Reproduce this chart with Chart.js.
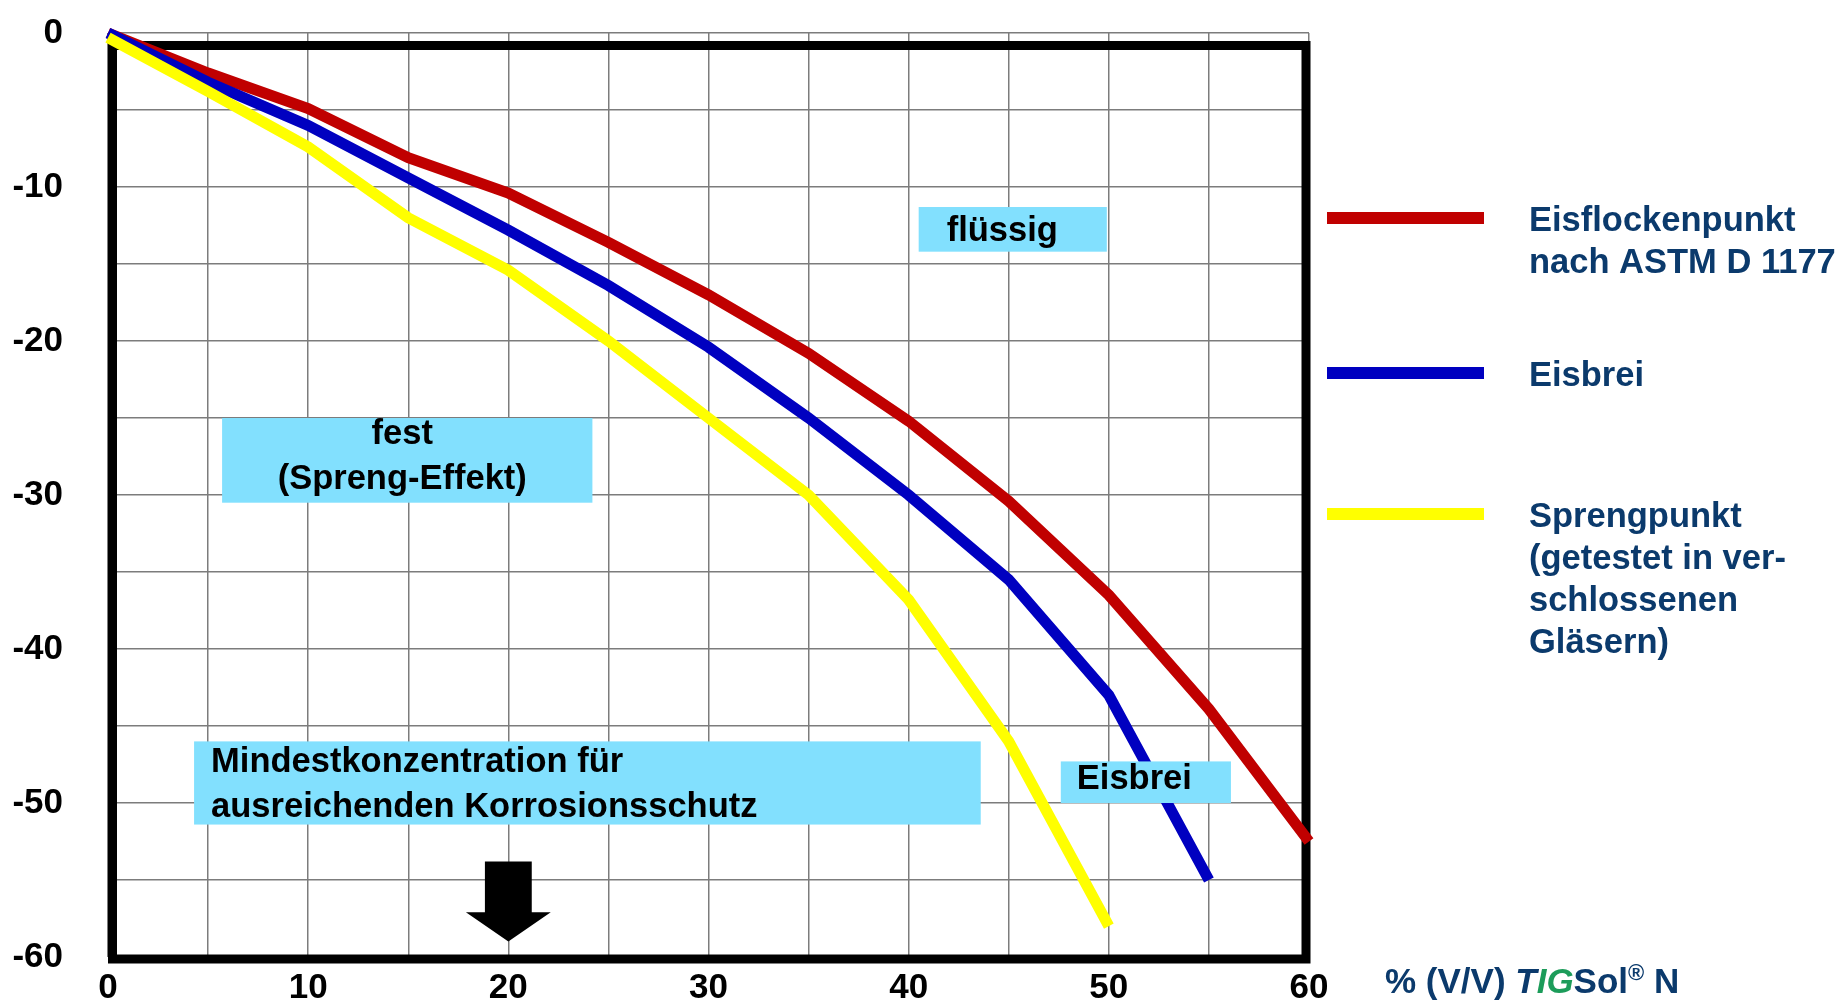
<!DOCTYPE html>
<html>
<head>
<meta charset="utf-8">
<title>Eisflockenpunkt / Sprengpunkt TIGSol N</title>
<script src="https://cdn.jsdelivr.net/npm/chart.js@4.4.1/dist/chart.umd.min.js"></script>
<style>
  html, body { margin: 0; padding: 0; background: #fff; }
  #wrap { width: 1844px; height: 1002px; }
</style>
</head>
<body>
<div id="wrap"><canvas id="chart" width="1844" height="1002"></canvas></div>
<script>
// concentration in % (V/V), temperature in °C
const flockenX = [0, 5, 10, 15, 20, 25, 30, 35, 40, 45, 50, 55, 60];
const eisflockenpunkt = [0, -2.6, -4.9, -8.1, -10.4, -13.6, -17.0, -20.8, -25.2, -30.4, -36.5, -43.9, -52.5];

const eisbreiX = [0, 5, 10, 15, 20, 25, 30, 35, 40, 45, 50, 55];
const eisbrei = [0, -3.2, -6.0, -9.4, -12.8, -16.4, -20.4, -25.0, -30.0, -35.5, -43.0, -55.0];

const sprengX = [0, 5, 10, 15, 20, 25, 30, 35, 40, 45, 50];
const sprengpunkt = [-0.3, -3.8, -7.4, -12.0, -15.4, -20.0, -25.0, -30.0, -36.8, -46.0, -58.0];

const xTickLabels = [0, 10, 20, 30, 40, 50, 60];
const yTickLabels = [0, -10, -20, -30, -40, -50, -60];

const seriesNames = ['Eisflockenpunkt nach ASTM D 1177', 'Eisbrei', 'Sprengpunkt'];
const legendText = [
    ['Eisflockenpunkt', 'nach ASTM D 1177'],
    ['Eisbrei'],
    ['Sprengpunkt', '(getestet in ver-', 'schlossenen', 'Gläsern)']
];
const seriesColors = ['#c00000', '#0000c0', '#ffff00'];

const NAVY = '#0b3a6c';
const GREEN = '#1c9c5a';
const BOX = '#82e0fe';
const FONT = '"Liberation Sans", Arial, sans-serif';

// text boxes inside the plot, placed in data units
const notes = [
    { x0: 40.5, x1: 49.9, y0: -11.3, y1: -14.2, align: 'left', tx: 41.9, lines: [['flüssig', -13.5]] },
    { x0: 5.7, x1: 24.2, y0: -25.0, y1: -30.5, align: 'center', tx: 14.7, lines: [['fest', -26.7], ['(Spreng-Effekt)', -29.6]] },
    { x0: 4.3, x1: 43.6, y0: -46.0, y1: -51.4, align: 'left', tx: 5.15, lines: [['Mindestkonzentration für', -48.0], ['ausreichenden Korrosionsschutz', -50.9]] },
    { x0: 47.6, x1: 56.1, y0: -47.3, y1: -50.0, align: 'left', tx: 48.4, lines: [['Eisbrei', -49.1]] }
];
const arrow = { x: 20, top: -53.8, neck: -57.1, tip: -59.0, shaft: 1.17, head: 2.12 };

function pts(xs, ys) {
    return xs.map((x, i) => ({ x: x, y: ys[i] }));
}

const decorPlugin = {
    id: 'decor',
    beforeDatasetsDraw(chart) {
        const { ctx, chartArea: a } = chart;
        ctx.save();
        ctx.strokeStyle = '#000';
        ctx.lineWidth = 9;
        const l = a.left + 4.5, t = a.top + 12.5, r = a.right - 3, b = a.bottom + 2;
        ctx.strokeRect(l, t, r - l, b - t);
        ctx.restore();
    },
    afterDatasetsDraw(chart) {
        const { ctx, chartArea: a } = chart;
        const xs = chart.scales.x, ys = chart.scales.y;
        const px = v => xs.getPixelForValue(v);
        const py = v => ys.getPixelForValue(v);
        ctx.save();

        // note boxes
        ctx.font = 'bold 34.5px ' + FONT;
        ctx.textBaseline = 'alphabetic';
        notes.forEach(n => {
            ctx.fillStyle = BOX;
            ctx.fillRect(px(n.x0), py(n.y0), px(n.x1) - px(n.x0), py(n.y1) - py(n.y0));
            ctx.fillStyle = '#000';
            ctx.textAlign = n.align;
            n.lines.forEach(([txt, y]) => ctx.fillText(txt, px(n.tx), py(y)));
        });

        // arrow at minimum concentration
        ctx.fillStyle = '#000';
        ctx.beginPath();
        ctx.moveTo(px(arrow.x - arrow.shaft), py(arrow.top));
        ctx.lineTo(px(arrow.x + arrow.shaft), py(arrow.top));
        ctx.lineTo(px(arrow.x + arrow.shaft), py(arrow.neck));
        ctx.lineTo(px(arrow.x + arrow.head), py(arrow.neck));
        ctx.lineTo(px(arrow.x), py(arrow.tip));
        ctx.lineTo(px(arrow.x - arrow.head), py(arrow.neck));
        ctx.lineTo(px(arrow.x - arrow.shaft), py(arrow.neck));
        ctx.closePath();
        ctx.fill();

        // legend on the right
        const lineY = [218, 373, 514];
        ctx.textAlign = 'left';
        ctx.textBaseline = 'middle';
        chart.data.datasets.forEach((ds, i) => {
            ctx.strokeStyle = ds.borderColor;
            ctx.lineWidth = 12;
            ctx.beginPath();
            ctx.moveTo(a.right + 18, lineY[i]);
            ctx.lineTo(a.right + 175, lineY[i]);
            ctx.stroke();
            ctx.fillStyle = NAVY;
            ctx.font = 'bold 34.5px ' + FONT;
            legendText[i].forEach((txt, k) => ctx.fillText(txt, a.right + 220, lineY[i] + 3 + k * 42));
        });

        // x axis title
        const parts = [
            { t: '% (V/V) ', c: NAVY },
            { t: 'T', c: NAVY, it: true },
            { t: 'IG', c: GREEN, it: true },
            { t: 'Sol', c: NAVY },
            { t: '®', c: NAVY, sup: true },
            { t: ' N', c: NAVY }
        ];
        let x = a.right + 76;
        const base = a.bottom + 36;
        ctx.textBaseline = 'alphabetic';
        parts.forEach(p => {
            ctx.font = (p.it ? 'italic ' : '') + 'bold ' + (p.sup ? 22 : 35) + 'px ' + FONT;
            ctx.fillStyle = p.c;
            ctx.fillText(p.t, x, p.sup ? base - 13 : base);
            x += ctx.measureText(p.t).width;
        });
        ctx.restore();
    }
};

const ctx = document.getElementById('chart').getContext('2d');
new Chart(ctx, {
    type: 'line',
    data: {
        datasets: [
            { label: seriesNames[0], data: pts(flockenX, eisflockenpunkt), borderColor: seriesColors[0], order: 2 },
            { label: seriesNames[1], data: pts(eisbreiX, eisbrei), borderColor: seriesColors[1], order: 1 },
            { label: seriesNames[2], data: pts(sprengX, sprengpunkt), borderColor: seriesColors[2], order: 0 }
        ].map(d => Object.assign(d, { borderWidth: 11, pointRadius: 0, tension: 0, fill: false, clip: 12 }))
    },
    options: {
        responsive: false,
        animation: false,
        layout: { padding: { left: 0, top: 33, right: 535, bottom: 0 } },
        plugins: { legend: { display: false }, tooltip: { enabled: false } },
        scales: {
            x: {
                type: 'linear', min: 0, max: 60,
                afterFit: s => { s.height = 45; s.paddingLeft = 0; s.paddingRight = 0; },
                border: { display: false },
                grid: { color: '#7c7c7c', lineWidth: 1.5, drawTicks: false },
                ticks: {
                    stepSize: 5, padding: 10, color: '#000', autoSkip: false, maxRotation: 0,
                    font: { family: FONT, size: 35, weight: 'bold', lineHeight: 1.2 },
                    callback: v => xTickLabels.includes(v) ? String(v) : ''
                }
            },
            y: {
                type: 'linear', min: -60, max: 0,
                afterFit: s => { s.width = 108; s.paddingTop = 0; s.paddingBottom = 0; },
                border: { display: false },
                grid: { color: '#7c7c7c', lineWidth: 1.5, drawTicks: false },
                ticks: {
                    stepSize: 5, padding: 45, color: '#000', autoSkip: false,
                    font: { family: FONT, size: 35, weight: 'bold', lineHeight: 0.1 },
                    callback: v => yTickLabels.includes(v) ? String(v) : ''
                }
            }
        }
    },
    plugins: [decorPlugin]
});
</script>
</body>
</html>
